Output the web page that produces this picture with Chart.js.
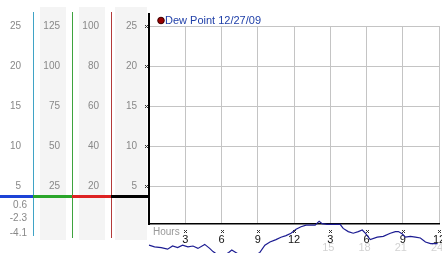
<!DOCTYPE html>
<html>
<head>
<meta charset="utf-8">
<script src="https://cdn.jsdelivr.net/npm/chart.js@4.4.0/dist/chart.umd.min.js"></script>
<style>
  html, body { margin: 0; padding: 0; background: #fff; }
  #wrap { position: relative; width: 442px; height: 253px; }
</style>
</head>
<body>
<div id="wrap"><canvas id="chart"></canvas></div>
<script>
// x axis, hours of the day
var hourTicks = [3, 6, 9, 12, 15, 18, 21, 24];
var hourLabels = ['3', '6', '9', '12', '3', '6', '9', '12'];
var pmTicks = [15, 18, 21, 24];
var pmLabels = ['15', '18', '21', '24'];

// label columns on the left (outer to inner)
var scaleL = [25, 20, 15, 10, 5];
var scaleA = [125, 100, 75, 50, 25];
var scaleB = [100, 80, 60, 40, 20];
var scaleC = [25, 20, 15, 10, 5];
var baseValue = 3.75;
var dayStats = ['0.6', '-2.3', '-4.1'];

// dew point readings
var dewLabel = 'Dew Point 12/27/09';
var dewHours = [0, 0.46, 1.01, 1.54, 1.95, 2.37, 2.78, 3.22, 3.64, 4.05, 4.61, 5.02, 5.30, 5.69,
  6.19, 6.60, 6.85, 7.18, 7.68, 8.18, 8.68, 9.18, 9.59, 10.01, 10.51, 10.92, 11.34, 11.75,
  12.17, 12.58, 13.00, 13.41, 13.75, 14.08, 14.33, 14.74, 15.24, 15.82, 16.07, 16.49, 16.90, 17.32,
  17.65, 17.90, 18.31, 18.89, 19.39, 19.97, 20.39, 20.64, 20.97, 21.22, 21.63, 22.05, 22.46, 22.88,
  23.30, 23.88];
var dewValues = [-2.4, -2.6, -2.7, -2.9, -2.5, -2.7, -2.4, -2.6, -2.5, -2.8, -2.3, -2.8, -3.2, -3.6,
  -3.7, -3.3, -3.0, -3.3, -3.8, -4.1, -3.8, -3.3, -2.4, -2.0, -1.7, -1.4, -1.2, -0.9,
  -0.4, -0.1, 0.1, 0.1, 0.1, 0.6, 0.3, 0.2, 0.2, 0.2, -0.3, -0.7, -0.9, -0.7,
  -0.5, -0.9, -1.7, -1.4, -1.3, -0.9, -0.7, -0.7, -1.0, -1.4, -1.3, -1.4, -1.5, -2.0,
  -2.2, -2.2];

var FONT = "'Liberation Sans', Arial, sans-serif";

function setTicks(list) {
    return function (scale) {
        scale.ticks = list.map(function (v) { return { value: v }; });
    };
}

function fixWidth(w) {
    return function (scale) { scale.width = w; };
}

function sideAxis(min, max, ticks, weight, w) {
    return {
        type: 'linear', position: 'left', min: min, max: max, weight: weight,
        afterBuildTicks: setTicks(ticks),
        afterFit: fixWidth(w),
        grid: { display: false, drawTicks: false },
        border: { display: false },
        ticks: { padding: 12, color: '#888', font: { family: FONT, size: 10 } }
    };
}

function mark(ctx, x, y) {
    // tiny checkered tick mark
    ctx.fillStyle = '#333';
    ctx.fillRect(x - 1, y - 1, 1, 1);
    ctx.fillRect(x + 1, y - 1, 1, 1);
    ctx.fillRect(x, y, 1, 1);
    ctx.fillRect(x - 1, y + 1, 1, 1);
    ctx.fillRect(x + 1, y + 1, 1, 1);
}

var panelPlugin = {
    id: 'panel',
    beforeDraw: function (chart) {
        var ctx = chart.ctx, s = chart.scales;
        ctx.save();
        ctx.fillStyle = '#fff';
        ctx.fillRect(0, 0, chart.width, chart.height);

        //shaded label columns
        ctx.fillStyle = '#f4f4f4';
        ctx.fillRect(s.yA.left + 7, 7, s.yA.width - 13, 233);
        ctx.fillRect(s.yB.left + 7, 7, s.yB.width - 13, 233);
        ctx.fillRect(s.y.left + 4, 7, s.y.width - 6, 233);

        //column dividers
        ctx.lineWidth = 1;
        ctx.strokeStyle = '#3fa3c6';
        ctx.beginPath(); ctx.moveTo(s.yA.left + 0.5, 12); ctx.lineTo(s.yA.left + 0.5, 236); ctx.stroke();
        ctx.strokeStyle = '#3ea33e';
        ctx.beginPath(); ctx.moveTo(s.yB.left + 0.5, 12); ctx.lineTo(s.yB.left + 0.5, 238); ctx.stroke();
        ctx.strokeStyle = '#b33a3a';
        ctx.beginPath(); ctx.moveTo(s.y.left + 0.5, 12); ctx.lineTo(s.y.left + 0.5, 238); ctx.stroke();

        //coloured base line
        var by = Math.round(s.y.getPixelForValue(baseValue)) + 0.5;
        var segs = [[0, s.yA.left, '#1d43d6'], [s.yA.left, s.yB.left, '#2aa52a'],
                    [s.yB.left, s.y.left, '#dd2323'], [s.y.left, s.y.right, '#000']];
        ctx.lineWidth = 3;
        segs.forEach(function (g) {
            ctx.strokeStyle = g[2];
            ctx.beginPath(); ctx.moveTo(g[0], by); ctx.lineTo(g[1], by); ctx.stroke();
        });

        //day stats under the first column
        ctx.font = '10px ' + FONT;
        ctx.fillStyle = '#888';
        ctx.textAlign = 'right';
        ctx.textBaseline = 'middle';
        var offs = [9, 22, 37];
        dayStats.forEach(function (t, i) {
            ctx.fillText(t, s.yL.right - 6, by + offs[i]);
        });
        ctx.restore();
    },
    beforeDatasetsDraw: function (chart) {
        var ctx = chart.ctx, x = chart.scales.x;
        ctx.save();
        ctx.font = '11px ' + FONT;
        ctx.fillStyle = '#d2d2d2';
        ctx.textAlign = 'center';
        ctx.textBaseline = 'top';
        pmTicks.forEach(function (h, i) {
            ctx.fillText(pmLabels[i], x.getPixelForValue(h) - 2, 242);
        });
        ctx.restore();
    },
    afterDraw: function (chart) {
        var ctx = chart.ctx, s = chart.scales, area = chart.chartArea;
        ctx.save();

        //axis stub above the plot
        ctx.strokeStyle = '#000';
        ctx.lineWidth = 2;
        ctx.beginPath(); ctx.moveTo(area.left, 13); ctx.lineTo(area.left, area.top); ctx.stroke();

        //tick marks
        hourTicks.forEach(function (h) {
            mark(ctx, Math.round(s.x.getPixelForValue(h)), 231);
        });
        scaleC.forEach(function (v) {
            mark(ctx, area.left - 3, Math.round(s.y.getPixelForValue(v)));
        });

        //Hours label
        ctx.font = '10px ' + FONT;
        ctx.fillStyle = '#999';
        ctx.textAlign = 'left';
        ctx.textBaseline = 'middle';
        ctx.fillText('Hours', area.left + 4, 232);

        //legend
        var ds = chart.data.datasets[0];
        ctx.beginPath();
        ctx.arc(area.left + 12, 20.5, 3.3, 0, Math.PI * 2);
        ctx.fillStyle = ds.pointBackgroundColor;
        ctx.fill();
        ctx.lineWidth = 1;
        ctx.strokeStyle = '#3a0000';
        ctx.stroke();
        ctx.font = '11px ' + FONT;
        ctx.fillStyle = '#1f3fa8';
        ctx.fillText(ds.label, area.left + 16, 20.5);
        ctx.restore();
    }
};

var chart = new Chart(document.getElementById('chart'), {
    type: 'line',
    data: {
        datasets: [{
            label: dewLabel,
            data: dewHours.map(function (h, i) { return { x: h, y: dewValues[i] }; }),
            borderColor: '#1c1c92',
            borderWidth: 1.2,
            pointRadius: 0,
            pointBackgroundColor: '#990000',
            tension: 0,
            clip: false
        }]
    },
    options: {
        responsive: true,
        maintainAspectRatio: false,
        animation: false,
        layout: { padding: { top: 26, right: 3, bottom: 0, left: 0 } },
        plugins: { legend: { display: false }, tooltip: { enabled: false } },
        scales: {
            x: {
                type: 'linear', min: 0, max: 24,
                afterBuildTicks: setTicks(hourTicks),
                afterFit: function (scale) {
                    scale.height = 29;
                    scale.paddingLeft = 0;
                    scale.paddingRight = 0;
                },
                grid: { color: '#c4c4c4', drawTicks: false },
                border: { color: '#000', width: 1.5 },
                ticks: {
                    autoSkip: false, maxRotation: 0, padding: 9, color: '#111',
                    font: { family: FONT, size: 11 },
                    callback: function (v) {
                        var i = hourTicks.indexOf(v);
                        return i >= 0 ? hourLabels[i] : '';
                    }
                }
            },
            y: {
                type: 'linear', position: 'left', min: 0.25, max: 25, weight: 0,
                afterBuildTicks: setTicks(scaleC),
                afterFit: fixWidth(38),
                grid: { color: '#c4c4c4', drawTicks: false },
                border: { color: '#000', width: 2 },
                ticks: { padding: 12, color: '#888', font: { family: FONT, size: 10 } }
            },
            yB: sideAxis(1, 100, scaleB, 1, 39),
            yA: sideAxis(1.25, 125, scaleA, 2, 39),
            yL: sideAxis(0.25, 25, scaleL, 3, 33)
        }
    },
    plugins: [panelPlugin]
});
</script>
</body>
</html>
